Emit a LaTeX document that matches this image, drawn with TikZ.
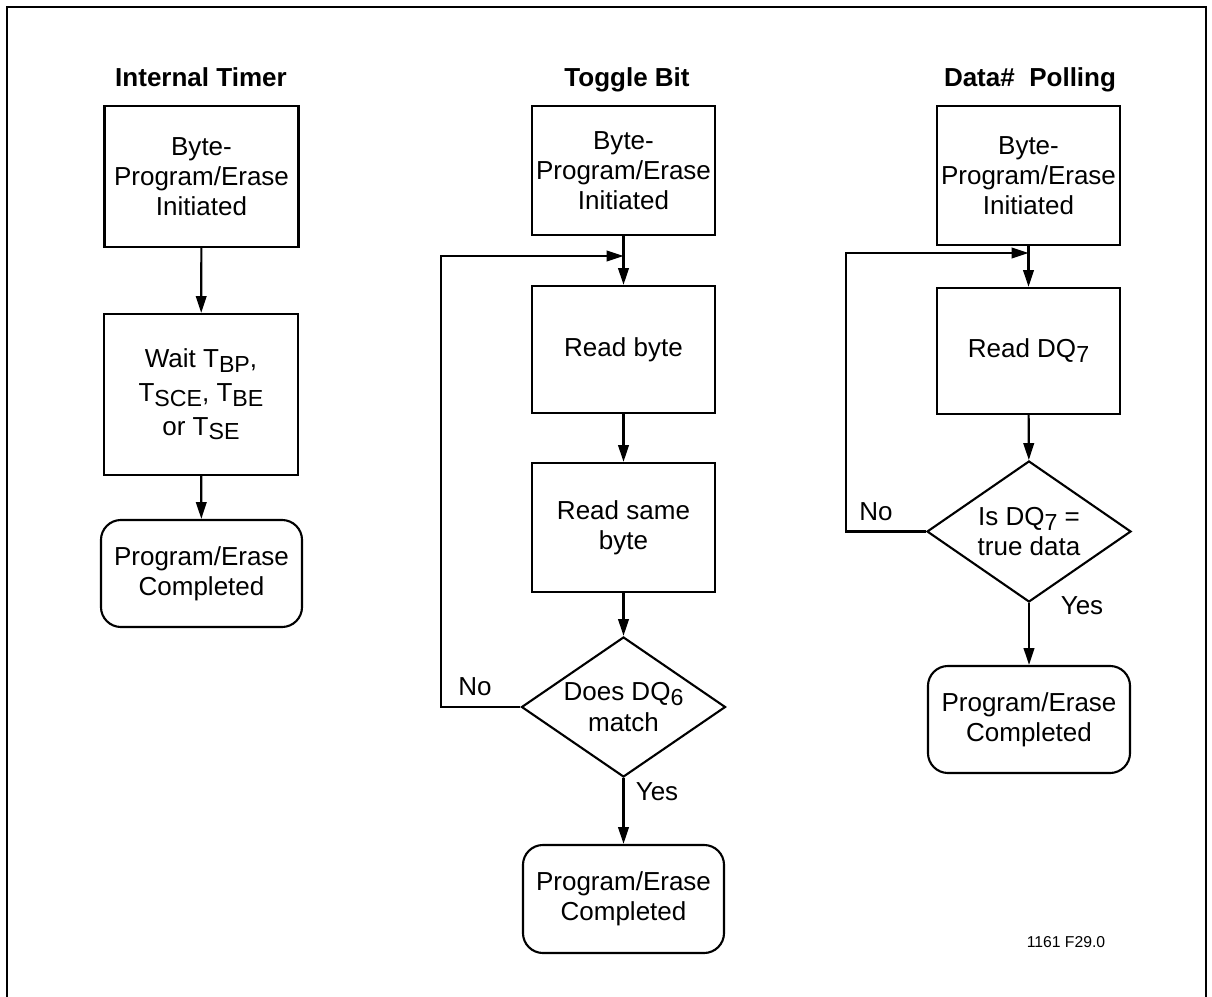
\documentclass[tikz,border=0pt]{standalone}
\usepackage{fontspec}
\setmainfont{Liberation Sans}
\usetikzlibrary{shapes.geometric,arrows.meta}

\newcommand\lo[1]{\raisebox{-0.35ex}{\fontsize{16.5}{18}\selectfont #1}}

\begin{document}
\begin{tikzpicture}
  [x=0.025cm,y=-0.025cm,
    line width=1.5pt,
    every node/.style={font=\fontsize{18.5}{21.5}\selectfont,inner sep=0pt,align=center},
    head/.style={font=\fontsize{18.5}{21.5}\selectfont\bfseries,anchor=base},
    stepbox/.style={draw,rectangle,minimum width=4.575cm},
    endbox/.style={draw,rectangle,rounded corners=0.5cm,minimum width=5.025cm,minimum height=2.675cm},
    testbox/.style={draw,diamond,aspect=1.46,minimum width=5.1cm,minimum height=3.5cm},
    tag/.style={},
    flow/.style={-{Triangle[length=12pt,width=7.5pt]}},
]
  \useasboundingbox (0,0) rectangle (1212,997);
  \draw[line width=1.5pt] (7,1000) -- (7,7) -- (1206,7) -- (1206,1000);

  % internal timer
  \node[head] (tt1) at (201,87) {Internal Timer};
  \node[stepbox,minimum width=4.85cm,minimum height=3.525cm] (a1) at (201.5,176.5)
    {Byte-\\Program/Erase\\Initiated};
  \node[stepbox,minimum width=4.85cm,minimum height=4.025cm,
    font=\fontsize{18.5}{24}\selectfont] (a2) at (201,394.5)
    {Wait T\lo{BP},\\T\lo{SCE}, T\lo{BE}\\or T\lo{SE}};
  \node[endbox] (a3) at (201.5,573.5) {Program/Erase\\Completed};
  \draw[flow] (a1) -- (a2);
  \draw[flow] (a2) -- (a3);

  % toggle bit
  \node[head] (tt2) at (627,87) {Toggle Bit};
  \node[stepbox,minimum height=3.225cm] (b1) at (623.5,170.5)
    {Byte-\\Program/Erase\\Initiated};
  \node[stepbox,minimum height=3.175cm] (b2) at (623.5,349.5) {Read byte};
  \node[stepbox,minimum height=3.225cm] (b3) at (623.5,527.5) {Read same\\byte};
  \node[testbox] (b4) at (623.5,707) {Does DQ\lo{6}\\match};
  \node[endbox,minimum height=2.7cm] (b5) at (623.5,899) {Program/Erase\\Completed};
  \coordinate (bturn) at (441,256);
  \coordinate (bjoin) at (623.5,256);
  \node[tag] (bno) at (475,687) {No};
  \node[tag] (byes) at (657,792) {Yes};
  \draw[flow] (b1) -- (b2);
  \draw[flow] (b2) -- (b3);
  \draw[flow] (b3) -- (b4);
  \draw[flow] (b4) -- (b5);
  \draw[flow] (b4.west) -| (bturn) -- (bjoin);

  % data polling
  \node[head] (tt3) at (1030,87) {Data\#\ \ Polling};
  \node[stepbox,minimum height=3.475cm] (c1) at (1028.5,175.5)
    {Byte-\\Program/Erase\\Initiated};
  \node[stepbox,minimum height=3.15cm] (c2) at (1028.5,351) {Read DQ\lo{7}};
  \node[testbox,minimum height=3.525cm] (c3) at (1029,531.5) {Is DQ\lo{7} =\\true data};
  \node[endbox,minimum width=5.05cm] (c4) at (1029,719.5) {Program/Erase\\Completed};
  \coordinate (cturn) at (846,253);
  \coordinate (cjoin) at (1028.5,253);
  \node[tag] (cno) at (876,512) {No};
  \node[tag] (cyes) at (1082,606) {Yes};
  \draw[flow] (c1) -- (c2);
  \draw[flow] (c2) -- (c3);
  \draw[flow] (c3) -- (c4);
  \draw[flow] (c3.west) -| (cturn) -- (cjoin);

  \node[font=\fontsize{11.2}{13}\selectfont] (fig) at (1066,942) {1161 F29.0};
\end{tikzpicture}
\end{document}
